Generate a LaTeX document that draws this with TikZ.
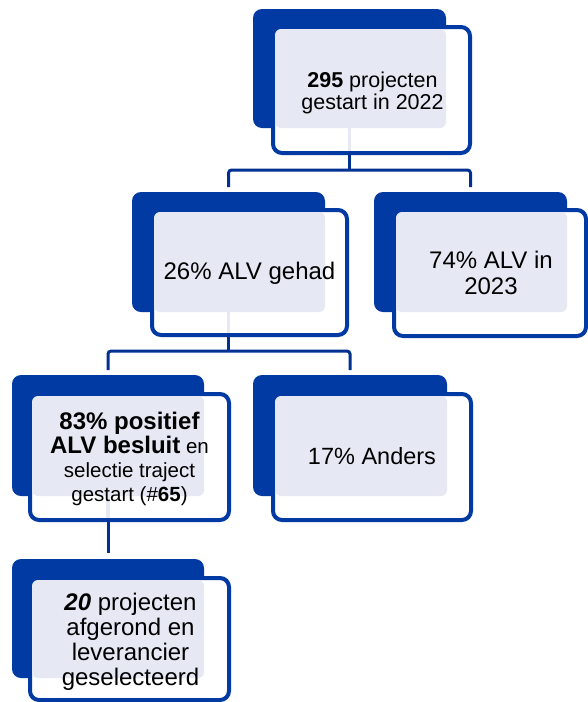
\documentclass[tikz,border=0pt]{standalone}
\usepackage{fontspec}
\setmainfont{Liberation Sans}
\usetikzlibrary{calc}
\definecolor{cardblue}{RGB}{0,58,162}
\definecolor{connblue}{RGB}{0,48,145}
\definecolor{lav}{RGB}{230,233,244}
\tikzset{
  darkcard/.style={rectangle, fill=cardblue, rounded corners=9pt, inner sep=0pt, outer sep=0pt},
  boxcard/.style={rectangle, fill=white, draw=cardblue, line width=4pt, rounded corners=9pt, inner sep=0pt, outer sep=0pt},
  conn/.style={draw=connblue, line width=3pt, rounded corners=3pt},
  stub/.style={draw=lav, line width=3.5pt},
  cardtext/.style={align=center, text=black, inner sep=0pt}
}
% name, dark x1,y1,x2,y2, box (outer) x1,y1,x2,y2
\newcommand\mycard[9]{%
  \node[darkcard, minimum width={(#4-#2)*1pt}, minimum height={(#5-#3)*1pt}] (#1d) at ({(#2+#4)/2},{(#3+#5)/2}) {};
  \node[boxcard, minimum width={(#8-#6-4)*1pt}, minimum height={(#9-#7-4)*1pt}] (#1b) at ({(#6+#8)/2},{(#7+#9)/2}) {};
  \fill[lav, rounded corners=6pt] ($(#1b.north west)+(2,2)$) rectangle (#1d.south east);
}
\begin{document}
\begin{tikzpicture}[x=1pt,y=-1pt]
\useasboundingbox (0,0) rectangle (588,702);
\clip (0,0) rectangle (588,702);
\fill[white] (0,0) rectangle (588,702);

\mycard{top}{253}{9}{446}{128}{271}{25}{472}{155}
\mycard{rl}{132}{192}{325}{312}{150}{208}{349}{337}
\mycard{rr}{374}{192}{567}{312}{392}{208}{588}{338}
\mycard{ql}{12}{375}{204}{496}{28}{392}{231}{522}
\mycard{qr}{253}{375}{447}{496}{271}{392}{473}{522}
\mycard{bl}{12}{559}{204}{678}{28}{576}{231}{702}

% light stubs inside the boxes where a connector leaves
\draw[stub] (topd.south) -- ($(topd.south |- topb.south)+(0,-2)$);
\draw[stub] (rld.south) -- ($(rld.south |- rlb.south)+(0,-2)$);
\draw[stub] (qld.south) -- ($(qld.south |- qlb.south)+(0,-2)$);

% connectors
\draw[conn] (topd.south |- topb.south) -- ++(0,17) coordinate (j1);
\draw[conn] ($(rld.north)+(0,-5)$) |- (j1) -| ($(rrd.north)+(0,-5)$);
\draw[conn] (rld.south |- rlb.south) -- ++(0,16) coordinate (j2);
\draw[conn] ($(qld.north)+(0,-5)$) |- (j2) -| ($(qrd.north)+(0,-5)$);
\draw[conn] (qld.south |- qlb.south) -- ($(bld.north)+(0,-6)$);

% texts
\node[cardtext, font=\fontsize{21.5}{22.5}\selectfont] (topt) at ($(topb)+(1,3)$) {\textbf{295} projecten\\gestart in 2022};
\node[cardtext, font=\fontsize{24}{26}\selectfont] (rlt) at ($(rlb)+(0,1)$) {26\% ALV gehad};
\node[cardtext, font=\fontsize{24}{26}\selectfont] (rrt) at ($(rrb)+(1,0)$) {74\% ALV in\\2023};
\node[cardtext, font=\fontsize{20.5}{24}\selectfont] (qlt) at ($(qlb)+(0,2)$) {{\fontsize{24}{24}\selectfont\bfseries 83\% positief}\\{\fontsize{24}{24}\selectfont\bfseries ALV besluit} en\\selectie traject\\gestart (\#\textbf{65})};
\node[cardtext, font=\fontsize{23.5}{25}\selectfont] (qrt) at ($(qrb)+(0,-1)$) {17\% Anders};
\node[cardtext, font=\fontsize{24}{25}\selectfont] (blt) at ($(blb)+(1,3)$) {\textbf{\textit{20}} projecten\\afgerond en\\leverancier\\geselecteerd};
\end{tikzpicture}
\end{document}
